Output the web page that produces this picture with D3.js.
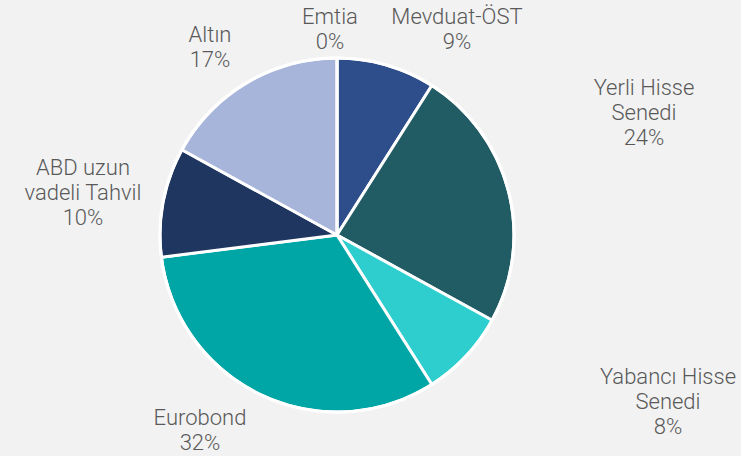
<!DOCTYPE html>
<html><head><meta charset="utf-8">
<script src="https://cdn.jsdelivr.net/npm/d3@7"></script>
<style>html,body{margin:0;padding:0;background:#f2f2f2;}svg{display:block;}</style>
</head><body>
<script>
const categories = ["Mevduat-ÖST", "Yerli Hisse Senedi", "Yabancı Hisse Senedi", "Eurobond", "ABD uzun vadeli Tahvil", "Altın", "Emtia"];
const values = [9, 24, 8, 32, 10, 17, 0];
const labelLines = [["Mevduat-ÖST"], ["Yerli Hisse", "Senedi"], ["Yabancı Hisse", "Senedi"], ["Eurobond"], ["ABD uzun", "vadeli Tahvil"], ["Altın"], ["Emtia"]];
const colors = ["#2e4e8b", "#215b63", "#2ecece", "#00a6a6", "#1f3660", "#a8b5da", "#8fa0c8"];
// label anchor (center x, first line baseline y)
const labelAnchors = [[457, 24], [644, 95], [668, 384], [200, 425], [83, 175], [210, 42], [330, 24]];

const W = 741, H = 456, cx = 337, cy = 235, R = 177;
const svg = d3.select("body").append("svg").attr("width", W).attr("height", H);
svg.append("rect").attr("width", W).attr("height", H).attr("fill", "#f2f2f2");

const pie = d3.pie().sort(null).value(d => d);
const arcs = pie(values);
const arc = d3.arc().innerRadius(0).outerRadius(R);
const g = svg.append("g").attr("transform", `translate(${cx},${cy})`);
g.selectAll("path").data(arcs).join("path")
  .attr("d", arc)
  .attr("fill", (d, i) => colors[i])
  .attr("stroke", "#ffffff").attr("stroke-width", 3).attr("stroke-linejoin", "round");
g.append("circle").attr("r", R).attr("fill", "none").attr("stroke", "#ffffff").attr("stroke-width", 3);

const lh = 25;
const lab = svg.append("g").attr("font-family", "Roboto, 'Open Sans', sans-serif")
  .attr("font-size", 22).attr("fill", "#595959").attr("text-anchor", "middle").attr("font-weight", 300);
arcs.forEach((a, i) => {
  const [x, y] = labelAnchors[i];
  const lines = labelLines[i].concat([d3.format(".0f")(values[i]) + "%"]);
  const t = lab.append("text");
  lines.forEach((s, k) => t.append("tspan").attr("x", x).attr("y", y + k * lh).text(s));
});
</script>
</body></html>
